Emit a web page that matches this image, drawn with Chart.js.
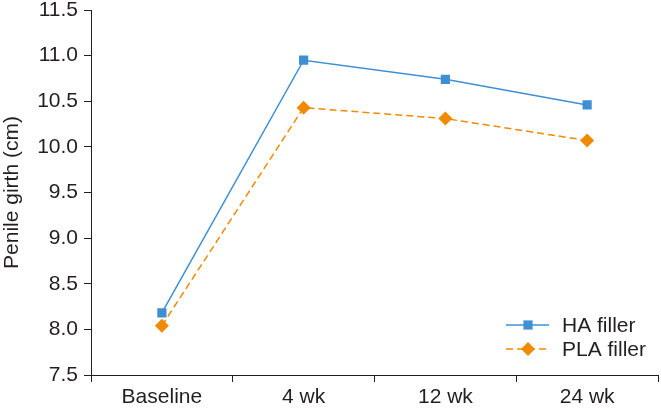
<!DOCTYPE html>
<html>
<head>
<meta charset="utf-8">
<script src="https://cdn.jsdelivr.net/npm/chart.js@4"></script>
<style>
  html, body { margin: 0; padding: 0; background: #fff; overflow: hidden; }
  #wrap { width: 665px; height: 408px; }
</style>
</head>
<body>
<div id="wrap"><canvas id="girthChart"></canvas></div>
<script>
const timepoints = ['Baseline', '4 wk', '12 wk', '24 wk'];
const haFiller = [8.18, 10.95, 10.74, 10.46];
const plaFiller = [8.04, 10.43, 10.31, 10.07];
const seriesNames = ['HA filler', 'PLA filler'];

const ink = '#231f20';
const blue = '#3f8fd4';
const orange = '#f28a00';
const fontFamily = '"Liberation Sans", Arial, Helvetica, sans-serif';
const fontSize = 21;

// legend with line + marker, bottom right of the plot
const lineLegend = {
    id: 'lineLegend',
    afterDraw(chart) {
        const ctx = chart.ctx;
        const rows = [
            { y: 325, ds: chart.data.datasets[0] },
            { y: 349, ds: chart.data.datasets[1] }
        ];
        ctx.save();
        rows.forEach(r => {
            ctx.strokeStyle = r.ds.borderColor;
            ctx.lineWidth = 1.5;
            ctx.setLineDash(r.ds.borderDash || []);
            ctx.beginPath();
            ctx.moveTo(506, r.y);
            ctx.lineTo(549, r.y);
            ctx.stroke();
            ctx.setLineDash([]);
            ctx.fillStyle = r.ds.pointBackgroundColor;
            Chart.helpers.drawPoint(ctx, {
                pointStyle: r.ds.pointStyle,
                radius: r.ds.pointRadius,
                borderWidth: 0
            }, 528, r.y);
            ctx.fillStyle = ink;
            ctx.font = fontSize + 'px ' + fontFamily;
            ctx.textBaseline = 'middle';
            ctx.fillText(r.ds.label, 562, r.y + 1);
        });
        ctx.restore();
    }
};

new Chart(document.getElementById('girthChart').getContext('2d'), {
    type: 'line',
    data: {
        labels: timepoints,
        datasets: [
            {
                label: seriesNames[0], data: haFiller,
                borderColor: blue, borderWidth: 1.5,
                pointStyle: 'rect', pointRadius: 6.5,
                pointBackgroundColor: blue, pointBorderColor: blue, pointBorderWidth: 0
            },
            {
                label: seriesNames[1], data: plaFiller,
                borderColor: orange, borderWidth: 1.5, borderDash: [7, 4],
                pointStyle: 'rectRot', pointRadius: 7,
                pointBackgroundColor: orange, pointBorderColor: orange, pointBorderWidth: 0
            }
        ]
    },
    options: {
        responsive: true,
        maintainAspectRatio: false,
        animation: false,
        layout: { padding: { top: 4, right: 3, left: 0, bottom: 0 } },
        plugins: { legend: { display: false }, tooltip: { enabled: false } },
        scales: {
            x: {
                offset: true,
                grid: { display: true, offset: true, drawOnChartArea: false, tickLength: 7, color: ink },
                border: { color: ink, width: 1 },
                ticks: { color: ink, font: { family: fontFamily, size: fontSize, lineHeight: 1 }, padding: 5 },
                afterFit: s => { s.height = 33; s.paddingLeft = 0; s.paddingRight = 0; }
            },
            y: {
                min: 7.5, max: 11.5,
                grid: { display: true, drawOnChartArea: false, tickLength: 7, color: ink },
                border: { color: ink, width: 1 },
                ticks: {
                    stepSize: 0.5, color: ink, padding: 6,
                    font: { family: fontFamily, size: fontSize, lineHeight: 1 },
                    callback: v => v.toFixed(1)
                },
                title: {
                    display: true, text: 'Penile girth (cm)', color: ink,
                    font: { family: fontFamily, size: fontSize, lineHeight: 1 }, padding: { top: 2, bottom: 4 }
                },
                afterFit: s => { s.width = 91; s.paddingTop = 10; s.paddingBottom = 0; }
            }
        }
    },
    plugins: [lineLegend]
});
</script>
</body>
</html>
